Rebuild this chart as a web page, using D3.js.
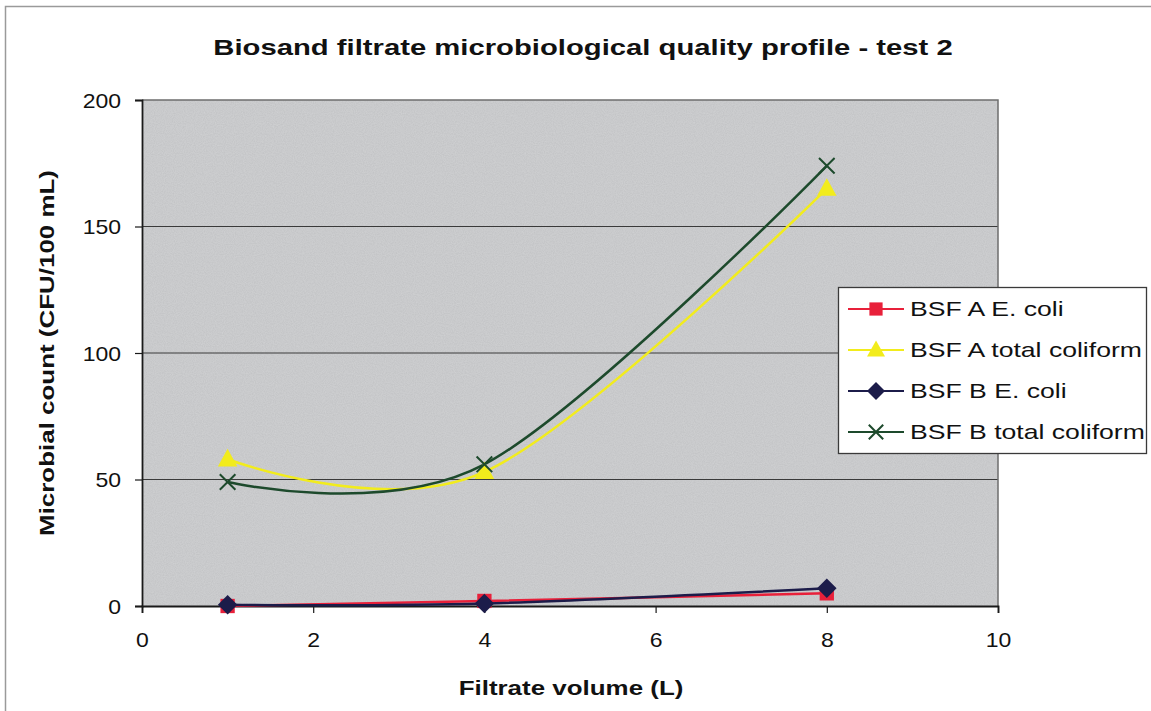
<!DOCTYPE html>
<html>
<head>
<meta charset="utf-8">
<script src="https://cdn.jsdelivr.net/npm/d3@7"></script>
<style>
  html, body { margin: 0; padding: 0; background: #fff; }
  svg { display: block; font-family: "Liberation Sans", Arial, sans-serif; }
</style>
</head>
<body>
<svg id="chart" width="1151" height="711"></svg>
<script>
// Filtrate volumes (L) at which samples were taken
const volumes = [1, 4, 8];

// Microbial counts, CFU/100 mL
const bsfAEcoli = [0, 2, 5];
const bsfATotal = [58, 53, 165];
const bsfBEcoli = [0.5, 1, 7];
const bsfBTotal = [49, 56, 174];

const seriesNames = ["BSF A E. coli", "BSF A total coliform", "BSF B E. coli", "BSF B total coliform"];
const xTicks = [0, 2, 4, 6, 8, 10];
const yTicks = [0, 50, 100, 150, 200];

const series = [
  { name: seriesNames[0], values: bsfAEcoli, color: "#e8203a", marker: "square" },
  { name: seriesNames[1], values: bsfATotal, color: "#f2ec1c", marker: "triangle" },
  { name: seriesNames[2], values: bsfBEcoli, color: "#1c1c4a", marker: "diamond" },
  { name: seriesNames[3], values: bsfBTotal, color: "#1d4a2c", marker: "cross" }
];

const svg = d3.select("#chart");
const plot = { left: 142, top: 100, right: 998, bottom: 606 };
const wide = 1.33;   // horizontal stretch of the chart lettering
const tickWide = 1.15;

const x = d3.scaleLinear().domain([0, 10]).range([plot.left, plot.right]);
const y = d3.scaleLinear().domain([0, 200]).range([plot.bottom, plot.top]);

// Outer chart frame
svg.append("rect")
  .attr("x", 5.5).attr("y", 6.5).attr("width", 1160).attr("height", 720)
  .attr("fill", "none").attr("stroke", "#9a9a9a").attr("stroke-width", 1.5);

// Grainy grey plot background
const defs = svg.append("defs");
const f = defs.append("filter").attr("id", "grain").attr("x", 0).attr("y", 0).attr("width", 1).attr("height", 1);
f.append("feTurbulence").attr("type", "fractalNoise").attr("baseFrequency", 0.9).attr("numOctaves", 2).attr("seed", 3).attr("result", "noise");
f.append("feColorMatrix").attr("in", "noise").attr("type", "matrix")
  .attr("values", "0 0 0 0 0.76  0 0 0 0 0.77  0 0 0 0 0.78  0 0 0 0.9 -0.1").attr("result", "tint");
f.append("feComposite").attr("in", "tint").attr("in2", "SourceGraphic").attr("operator", "over");

svg.append("rect")
  .attr("x", plot.left).attr("y", plot.top)
  .attr("width", plot.right - plot.left).attr("height", plot.bottom - plot.top)
  .attr("fill", "#c3c4c6");
svg.append("rect")
  .attr("x", plot.left).attr("y", plot.top)
  .attr("width", plot.right - plot.left).attr("height", plot.bottom - plot.top)
  .attr("fill", "#c3c4c6").attr("filter", "url(#grain)").attr("opacity", 0.55);

// Horizontal gridlines
svg.append("g")
  .selectAll("line")
  .data(yTicks.filter(d => d > 0 && d < 200))
  .join("line")
  .attr("x1", plot.left).attr("x2", plot.right)
  .attr("y1", d => y(d)).attr("y2", d => y(d))
  .attr("stroke", "#3a3a3a").attr("stroke-width", 1);

// Top and right plot border
svg.append("path")
  .attr("d", `M${plot.left},${plot.top}H${plot.right}V${plot.bottom}`)
  .attr("fill", "none").attr("stroke", "#6e6e6e").attr("stroke-width", 1.5);

// Axes
const yAxis = d3.axisLeft(y).tickValues(yTicks).tickSize(7).tickPadding(14);
const xAxis = d3.axisBottom(x).tickValues(xTicks).tickSize(7).tickPadding(14);

const gy = svg.append("g").attr("transform", `translate(${plot.left},0)`).call(yAxis);
const gx = svg.append("g").attr("transform", `translate(0,${plot.bottom})`).call(xAxis);
[gx, gy].forEach(g => {
  g.select(".domain").attr("stroke", "#1a1a1a").attr("stroke-width", 1.8);
  g.selectAll(".tick line").attr("stroke", "#1a1a1a").attr("stroke-width", 1.2);
  g.selectAll(".tick text").attr("fill", "#111").attr("font-size", 20)
    .attr("font-family", "'Liberation Sans', Arial, sans-serif")
    .attr("transform", `scale(${tickWide},1)`);
});
gy.selectAll(".tick text").attr("dy", "0.35em").attr("x", -21 / tickWide);
gx.selectAll(".tick text").attr("dy", "0.71em").attr("y", 27);

// Titles
function stretchedText(px, py, size, txt, bold, rotate) {
  return svg.append("text")
    .attr("transform", `translate(${px},${py})${rotate ? " rotate(-90)" : ""} scale(${wide},1)`)
    .attr("text-anchor", "middle")
    .attr("font-size", size).attr("font-weight", bold ? "bold" : "normal").attr("fill", "#111")
    .text(txt);
}
stretchedText(583, 55, 22, "Biosand filtrate microbiological quality profile - test 2", true, false);
stretchedText(571, 695, 19.5, "Filtrate volume (L)", true, false);
stretchedText(54, 353, 19.5, "Microbial count (CFU/100 mL)", true, true);

// Marker drawing
function drawMarker(g, type, color, cx, cy, s) {
  if (type === "square") {
    g.append("rect").attr("x", cx - s * 0.55).attr("y", cy - s * 0.55)
      .attr("width", s * 1.1).attr("height", s * 1.1).attr("fill", color);
  } else if (type === "triangle") {
    g.append("path")
      .attr("d", `M${cx},${cy - s * 0.8}L${cx + s * 0.75},${cy + s * 0.55}L${cx - s * 0.75},${cy + s * 0.55}Z`)
      .attr("fill", color);
  } else if (type === "diamond") {
    g.append("path")
      .attr("d", `M${cx},${cy - s * 0.75}L${cx + s * 0.75},${cy}L${cx},${cy + s * 0.75}L${cx - s * 0.75},${cy}Z`)
      .attr("fill", color);
  } else if (type === "cross") {
    const r = s * 0.6;
    g.append("path")
      .attr("d", `M${cx - r},${cy - r}L${cx + r},${cy + r}M${cx - r},${cy + r}L${cx + r},${cy - r}`)
      .attr("stroke", color).attr("stroke-width", 2).attr("fill", "none");
  }
}

// Smoothed series lines with markers
const line = d3.line()
  .x((d, i) => x(volumes[i]))
  .y(d => y(d))
  .curve(d3.curveCardinal.tension(0));

const gSeries = svg.append("g");
series.forEach(s => {
  gSeries.append("path")
    .datum(s.values)
    .attr("d", line)
    .attr("fill", "none").attr("stroke", s.color).attr("stroke-width", 2.5);
});
series.forEach(s => {
  const gm = gSeries.append("g");
  s.values.forEach((v, i) => drawMarker(gm, s.marker, s.color, x(volumes[i]), y(v), 13));
});

// Legend
const legend = svg.append("g");
legend.append("rect")
  .attr("x", 838.5).attr("y", 287.5).attr("width", 308).attr("height", 166)
  .attr("fill", "#fff").attr("stroke", "#3a3a3a").attr("stroke-width", 1.3);
series.forEach((s, i) => {
  const cy = 309 + i * 41;
  legend.append("line")
    .attr("x1", 848).attr("x2", 904).attr("y1", cy).attr("y2", cy)
    .attr("stroke", s.color).attr("stroke-width", 2);
  drawMarker(legend, s.marker, s.color, 876, cy, 12);
  legend.append("text")
    .attr("transform", `translate(910,${cy}) scale(${wide},1)`)
    .attr("dy", "0.36em")
    .attr("font-size", 20).attr("fill", "#111")
    .text(s.name);
});
</script>
</body>
</html>
